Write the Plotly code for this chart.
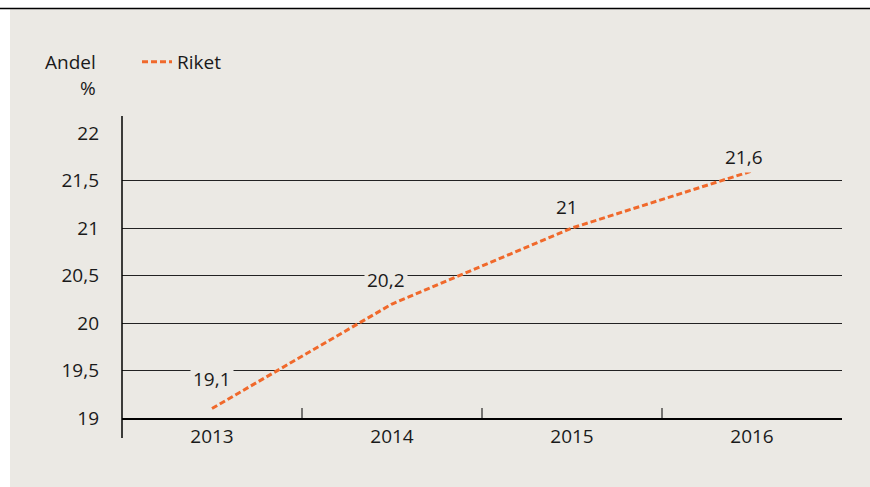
import plotly.graph_objects as go

years = ["2013", "2014", "2015", "2016"]
riket = [19.1, 20.2, 21.0, 21.6]
value_labels = ["19,1", "20,2", "21", "21,6"]
y_ticks = [19, 19.5, 20, 20.5, 21, 21.5, 22]
y_ticktext = ["19", "19,5", "20", "20,5", "21", "21,5", "22"]

# label offsets (styling) in px
label_dx = [0, -6, -5, -8]
label_dy = [30, 24, 21, 14]

BG = "#ebe9e4"
ORANGE = "#f0692b"
TXT = "#1a1a1a"
FONT = "Open Sans"
FS = 19

W, H = 870, 487
L, R, T, B = 122, 28, 133, 69
PW, PH = W - L - R, H - T - B


def px(x):  # image pixel -> paper
    return (x - L) / PW


def py(y):
    return (H - B - y) / PH


fig = go.Figure()
fig.add_trace(go.Scatter(
    x=years, y=riket, mode="lines", name="Riket",
    line=dict(color=ORANGE, width=3, dash="6px,3px"),
    cliponaxis=False,
))

for i, (y, t, dx, dy) in enumerate(zip(riket, value_labels, label_dx, label_dy)):
    fig.add_annotation(x=i, y=y, xref="x", yref="y", text=t, showarrow=False,
                       xshift=dx, yshift=dy, bgcolor=BG, borderpad=2,
                       font=dict(family=FONT, size=FS, color=TXT))

fig.add_annotation(xref="paper", yref="paper", x=px(98), y=py(62), text="Andel",
                   showarrow=False, xanchor="right", yanchor="middle",
                   font=dict(family=FONT, size=FS, color=TXT))
fig.add_annotation(xref="paper", yref="paper", x=px(98), y=py(88), text="%",
                   showarrow=False, xanchor="right", yanchor="middle",
                   font=dict(family=FONT, size=FS, color=TXT))

shapes = [
    dict(type="rect", xref="paper", yref="paper", x0=px(10), x1=px(880), y0=py(500), y1=py(8),
         fillcolor=BG, line=dict(width=0), layer="below"),
    dict(type="line", xref="paper", yref="paper", x0=px(0), x1=px(880), y0=py(8.5), y1=py(8.5),
         line=dict(color="black", width=1.5)),
    dict(type="line", xref="paper", yref="paper", x0=0, x1=0, y0=py(438), y1=py(116),
         line=dict(color="black", width=1.5)),
]
for b in [0.5, 1.5, 2.5]:
    shapes.append(dict(type="line", xref="x", yref="paper", x0=b, x1=b, y0=0, y1=10 / PH,
                       line=dict(color="black", width=1)))

fig.update_layout(
    width=W, height=H,
    margin=dict(l=L, r=R, t=T, b=B),
    paper_bgcolor="white",
    plot_bgcolor="rgba(0,0,0,0)",
    font=dict(family=FONT, size=FS, color=TXT),
    shapes=shapes,
    showlegend=True,
    legend=dict(x=px(137), y=py(62), xanchor="left", yanchor="middle",
                bgcolor="rgba(0,0,0,0)", itemwidth=30,
                font=dict(family=FONT, size=FS, color=TXT)),
    xaxis=dict(type="category", range=[-0.5, 3.5], showgrid=False, showline=True,
               linecolor="black", linewidth=2, ticks="", ticklabelstandoff=0,
               tickfont=dict(family=FONT, size=FS, color=TXT), zeroline=False),
    yaxis=dict(range=[19, 22], tickvals=y_ticks, ticktext=y_ticktext, showgrid=True,
               gridcolor="#222222", gridwidth=1, showline=False, ticks="",
               ticklabelstandoff=22, zeroline=False,
               tickfont=dict(family=FONT, size=FS, color=TXT)),
)

fig.write_html(
    "out.html",
    config={"displayModeBar": False},
    post_script="document.body.style.margin='0';document.body.style.overflow='hidden';",
)
